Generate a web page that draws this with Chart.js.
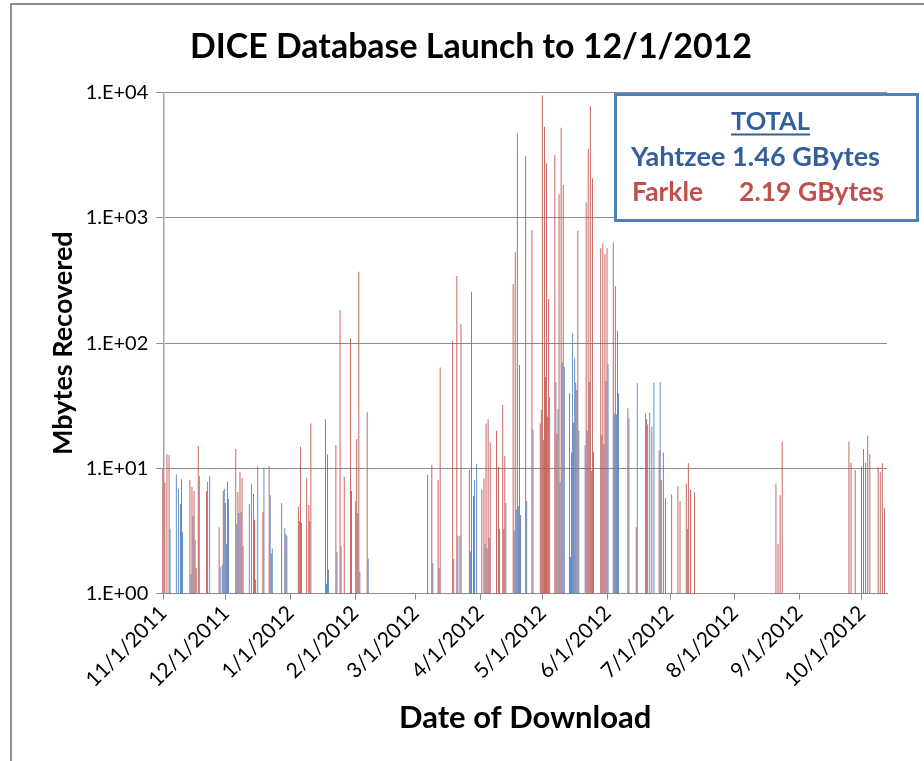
<!DOCTYPE html>
<html>
<head>
<meta charset="utf-8">
<title>DICE Database Launch to 12/1/2012</title>
<script src="https://cdn.jsdelivr.net/npm/chart.js@4.4.1/dist/chart.umd.min.js"></script>
<style>
  html, body { margin: 0; padding: 0; background: #ffffff; }
  #wrap { position: relative; width: 924px; height: 761px; }
</style>
</head>
<body>
<div id="wrap"><canvas id="chart" width="924" height="761"></canvas></div>
<script>
// Daily recovered volume (MB). Days are counted from 11/1/2011 (day 0).
const farkleDays = [0,1,2,3,9,13,14,15,16,17,21,27,29,30,31,35,36,37,38,44,48,51,52,57,59,65,66,69,70,71,
  78,79,83,85,87,90,93,94,98,127,129,132,133,139,141,143,147,148,149,153,154,155,156,157,160,161,163,164,
  168,169,170,171,174,177,181,182,183,184,185,188,189,190,191,192,195,196,197,198,199,203,204,205,206,
  210,211,212,213,216,217,218,223,227,232,238,239,240,241,244,247,248,251,252,253,255,294,295,296,297,
  329,330,332,335,336,337,338,339,343,344,345,346];
const farkleMB = [10.1,7.7,13,12.8,8.2,8.1,7.1,6.6,1.6,15.2,6.6,3.4,6.6,5.3,7.9,14.3,6.5,9.4,8.4,3.9,
  4.5,10.4,2.1,5.3,3.0,4.95,14.9,8.35,5.1,22.9,24.7,13,15.4,184,8.6,109,17.2,372,28.1,8.9,10.7,8.1,64,104,
  344,142,9.7,258,6.0,6.8,8.35,22.9,24.7,16.1,20,10.3,32.1,12.6,297,532,4740,67,3125,800,22.9,9550,5350,
  2730,225,3180,19,1545,5250,1833,39.8,13.4,23.2,48.4,791,1334,3550,7830,2073,572,628,513,572,640,286,125,
  30.2,3.4,24.7,13.9,8.1,13.4,5.8,6.2,7.25,5.5,7.6,11,6.8,6.45,7.6,2.5,6.1,16.4,16.4,11.1,9.7,10.4,14.3,
  11.1,18.3,13,10.2,9.4,11,4.8];

const yahtzeeDays = [3,6,7,8,9,13,14,15,17,21,22,27,28,29,30,31,35,36,37,38,41,42,43,44,45,48,51,52,58,59,
  65,66,70,78,79,83,85,90,92,93,94,98,129,132,139,141,142,147,149,150,154,155,156,161,163,164,168,169,170,
  171,174,177,181,182,183,184,185,188,189,190,191,192,195,196,197,198,199,202,203,204,205,206,210,211,212,
  213,216,217,218,223,227,231,232,233,234,235,238,251];
const yahtzeeMB = [3.3,9.0,6.9,5.2,3.1,1.43,4.2,2.7,8.7,7.8,8.7,1.64,1.7,6.9,2.5,5.7,3.6,4.4,4.5,2.4,5.2,
  7.5,6.25,1.3,10.4,10.2,6.1,2.3,3.35,2.9,3.8,3.67,3.8,1.2,1.55,2.15,2.4,6.6,5.5,4.4,1.5,1.9,1.75,1.6,1.9,
  2.9,2.9,2.17,8.1,10.9,2.5,2.3,2.8,3.3,3.3,5.3,3.2,4.7,5.0,4.25,5.5,20.5,29.3,16.9,54,26,37,49,29.8,7.8,
  70,64.6,1.96,120,75.7,42.3,20,15.4,20,48.7,9.6,13.6,18.7,15.7,50,67.8,27.5,27,39.8,25.4,47.9,27.3,22.4,
  27.9,21.5,48.4,49,3.3];

// Month ticks on the date axis (day offsets and their labels).
const monthTickDays = [0,30,61,92,121,152,182,213,243,274,305,335];
const monthTickLabels = ['11/1/2011','12/1/2011','1/1/2012','2/1/2012','3/1/2012','4/1/2012',
  '5/1/2012','6/1/2012','7/1/2012','8/1/2012','9/1/2012','10/1/2012'];

// Log axis ticks.
const yTickValues = [1, 10, 100, 1000, 10000];
const yTickLabels = ['1.E+00','1.E+01','1.E+02','1.E+03','1.E+04'];

// Totals shown in the summary box.
const totalNames = ['Yahtzee', 'Farkle'];
const totalAmounts = ['1.46 GBytes', '2.19 GBytes'];

const RED = 'rgba(192, 80, 77, 0.95)';
const BLUE = 'rgba(79, 129, 189, 0.95)';
const BOX_BLUE = '#4F81BD';
const TEXT_BLUE = '#33609A';
const TEXT_RED = '#C0504D';
const FONT = "Lato, 'DejaVu Sans', sans-serif";

Chart.defaults.font.family = FONT;
Chart.defaults.color = '#000000';

// Draw bold text stretched/condensed to a given width.
function fittedText(ctx, text, x, y, width, size, color) {
  ctx.save();
  ctx.font = `bold ${size}px ${FONT}`;
  const w = ctx.measureText(text).width;
  ctx.translate(x, y);
  ctx.scale(width / w, 1);
  ctx.fillStyle = color;
  ctx.textAlign = 'left';
  ctx.textBaseline = 'alphabetic';
  ctx.fillText(text, 0, 0);
  ctx.restore();
}

const decorations = {
  id: 'decorations',
  beforeDraw(chart) {
    const ctx = chart.ctx;
    ctx.save();
    ctx.fillStyle = '#ffffff';
    ctx.fillRect(0, 0, chart.width, chart.height);
    // chart frame
    ctx.strokeStyle = '#8e8e8e';
    ctx.lineWidth = 2;
    ctx.beginPath();
    ctx.moveTo(11, chart.height);
    ctx.lineTo(11, 4);
    ctx.lineTo(chart.width, 4);
    ctx.stroke();
    ctx.restore();
  },
  afterDraw(chart) {
    const ctx = chart.ctx;
    // main title
    fittedText(ctx, 'DICE Database Launch to 12/1/2012', 190, 58, 562, 35, '#000000');

    // totals box
    ctx.save();
    ctx.fillStyle = '#ffffff';
    ctx.fillRect(615, 94, 303, 127);
    ctx.strokeStyle = BOX_BLUE;
    ctx.lineWidth = 3;
    ctx.strokeRect(615.5, 94.5, 302, 126);
    ctx.restore();

    fittedText(ctx, 'TOTAL', 731, 130, 79, 25, TEXT_BLUE);
    ctx.save();
    ctx.strokeStyle = TEXT_BLUE;
    ctx.lineWidth = 2;
    ctx.beginPath();
    ctx.moveTo(731, 134.5);
    ctx.lineTo(810, 134.5);
    ctx.stroke();
    ctx.restore();

    fittedText(ctx, totalNames[0] + ' ' + totalAmounts[0], 631, 165.5, 249, 26, TEXT_BLUE);
    fittedText(ctx, totalNames[1], 632, 201, 71, 26, TEXT_RED);
    fittedText(ctx, totalAmounts[1], 739, 201, 145, 26, TEXT_RED);
  }
};

const toPoints = (days, values) => days.map((d, i) => ({ x: d, y: [1, values[i]] }));

new Chart(document.getElementById('chart'), {
  type: 'bar',
  data: {
    datasets: [
      { label: 'Farkle', data: toPoints(farkleDays, farkleMB), backgroundColor: RED },
      { label: 'Yahtzee', data: toPoints(yahtzeeDays, yahtzeeMB), backgroundColor: BLUE }
    ]
  },
  options: {
    responsive: false,
    animation: false,
    devicePixelRatio: 1,
    layout: { padding: { top: 92.7, right: 37, bottom: 0, left: 0 } },
    datasets: {
      bar: {
        categoryPercentage: 1,
        barPercentage: 0.88,
        borderWidth: 0,
        clip: { left: 3, right: 3, top: 2, bottom: 0 }
      }
    },
    plugins: {
      legend: { display: false },
      tooltip: { enabled: false },
      title: { display: false }
    },
    scales: {
      x: {
        type: 'linear',
        min: 0,
        max: 347,
        offset: false,
        grid: { drawOnChartArea: false, drawTicks: true, tickLength: 6, color: '#8c8c8c', offset: false },
        border: { color: '#8c8c8c', width: 1 },
        afterBuildTicks: (scale) => { scale.ticks = monthTickDays.map(v => ({ value: v })); },
        afterFit: (scale) => { scale.height = 761 - 593.7; },
        ticks: {
          autoSkip: false,
          minRotation: 45,
          maxRotation: 45,
          padding: 1,
          color: '#000000',
          font: { size: 21 },
          callback: (value, index) => monthTickLabels[index]
        },
        title: {
          display: true,
          text: 'Date of Download',
          color: '#000000',
          font: { size: 31, weight: 'bold' },
          padding: { top: 0, bottom: 24.5 }
        }
      },
      y: {
        type: 'logarithmic',
        min: 1,
        max: 10000,
        grid: { color: '#8c8c8c', tickLength: 7 },
        border: { color: '#a6a6a6', width: 1.5 },
        afterBuildTicks: (scale) => { scale.ticks = yTickValues.map(v => ({ value: v })); },
        afterFit: (scale) => { scale.width = 163.3; },
        ticks: {
          padding: 8,
          color: '#000000',
          font: { size: 20 },
          callback: (value, index) => yTickLabels[index]
        },
        title: {
          display: true,
          text: 'Mbytes Recovered',
          color: '#000000',
          font: { size: 27, weight: 'bold' },
          padding: { top: 47, bottom: 0 }
        }
      }
    }
  },
  plugins: [decorations]
});
</script>
</body>
</html>
